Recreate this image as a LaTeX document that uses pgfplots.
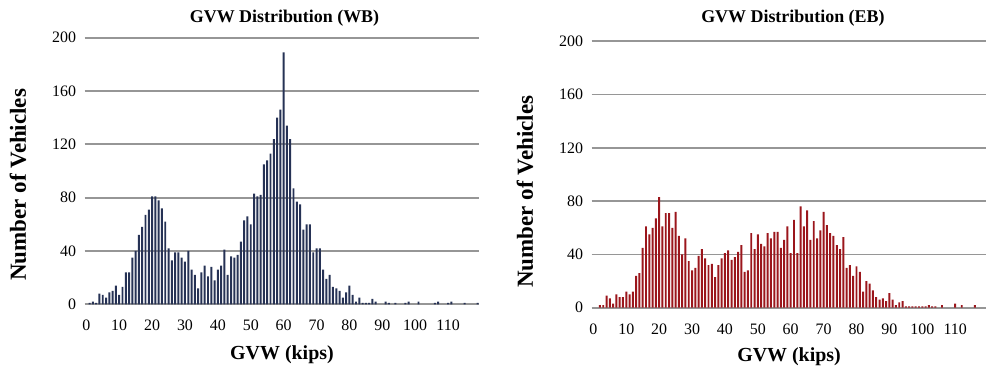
\documentclass[border=0pt]{standalone}
\usepackage{pgfplots}
\pgfplotsset{compat=1.18}
\usepackage{pgfplotstable}
\usepackage{fontspec}
\setmainfont{Liberation Serif}

\definecolor{wb}{RGB}{38,50,85}
\definecolor{eb}{RGB}{155,22,28}
\definecolor{gridc}{RGB}{150,150,150}

\pgfplotstableread{
x y
1 1
2 2
3 1
4 8
5 7
6 5
7 9
8 10
9 14
10 7
11 13
12 24
13 24
14 35
15 40
16 52
17 58
18 67
19 71
20 81
21 81
22 78
23 72
24 62
25 42
26 33
27 39
28 39
29 35
30 32
31 40
32 26
33 22
34 12
35 24
36 29
37 21
38 28
39 18
40 26
41 29
42 41
43 22
44 36
45 35
46 37
47 47
48 63
49 66
50 60
51 83
52 81
53 82
54 105
55 108
56 113
57 124
58 140
59 146
60 189
61 134
62 124
63 87
64 77
65 75
66 56
67 60
68 60
69 39
70 42
71 42
72 26
73 19
74 22
75 13
76 12
77 10
78 5
79 9
80 14
81 7
82 2
83 5
84 1
85 1
86 1
87 4
88 2
91 2
92 1
94 1
97 1
98 2
101 2
106 1
107 2
110 1
111 2
115 1
119 1
}\wbdata

\pgfplotstableread{
x y
2 2
3 2
4 9
5 7
6 3
7 10
8 8
9 8
10 12
11 10
12 12
13 24
14 26
15 45
16 61
17 55
18 60
19 67
20 83
21 61
22 71
23 71
24 60
25 72
26 54
27 40
28 52
29 35
30 28
31 30
32 39
33 44
34 37
35 32
36 33
37 23
38 32
39 37
40 41
41 43
42 36
43 38
44 42
45 47
46 27
47 28
48 56
49 44
50 55
51 48
52 46
53 56
54 52
55 57
56 57
57 45
58 51
59 61
60 41
61 66
62 41
63 76
64 61
65 73
66 51
67 65
68 52
69 58
70 72
71 62
72 56
73 54
74 47
75 44
76 53
77 30
78 32
79 24
80 31
81 27
82 12
83 20
84 18
85 13
86 8
87 6
88 7
89 5
90 11
91 6
92 2
93 4
94 5
95 1
96 1
97 1
98 1
99 1
100 1
101 1
102 2
103 1
104 1
106 2
110 3
112 2
116 2
}\ebdata

\pgfplotsset{
  gvw/.style={
    scale only axis, width=296bp, height=199.9bp,
    xmin=-0.5, xmax=119.5, ymin=0, ymax=200,
    ytick={0,40,...,200}, xtick={0,10,...,110},
    ymajorgrids, major grid style={gridc, line width=1.3bp},
    axis line style={draw=none}, tick style={draw=none},
    ybar, bar width=0.6,
    tick label style={font=\fontsize{12}{14}\selectfont},
    /pgf/number format/assume math mode=true,
    xticklabel style={yshift=-4bp},
    yticklabel style={xshift=-3bp},
    title style={font=\bfseries\fontsize{13.5}{16}\selectfont, anchor=center},
    xlabel style={font=\bfseries\fontsize{15}{17}\selectfont, anchor=center},
    ylabel style={font=\bfseries\fontsize{17.3}{19}\selectfont, anchor=center},
  }
}

\begin{document}
\begin{tikzpicture}
\useasboundingbox (0,0) rectangle (740.25bp,-280.5bp);

\begin{axis}[gvw,
  at={(63.5bp,-228.2bp)}, anchor=south west,
  title={GVW Distribution (WB)},
  title style={at={([xshift=1.9bp,yshift=9bp]axis description cs:0.5,1)}},
  xlabel={GVW (kips)},
  xlabel style={at={([yshift=-38bp]axis description cs:0.5,0)}},
  ylabel={Number of Vehicles},
  ylabel style={at={([xshift=-50bp,yshift=-10.4bp]axis description cs:0,0.5)}},
]
\addplot[fill=wb, draw=none] table[x=x,y=y] {\wbdata};
\end{axis}

\begin{axis}[gvw,
  at={(443.8bp,-230.8bp)}, anchor=south west,
  title={GVW Distribution (EB)},
  title style={at={([xshift=2.9bp,yshift=11.25bp]axis description cs:0.5,1)}},
  xlabel={GVW (kips)},
  xlabel style={at={([yshift=-37bp]axis description cs:0.5,0)}},
  ylabel={Number of Vehicles},
  ylabel style={at={([xshift=-50bp,yshift=-13bp]axis description cs:0,0.5)}},
]
\addplot[fill=eb, draw=none] table[x=x,y=y] {\ebdata};
\end{axis}
\end{tikzpicture}
\end{document}
